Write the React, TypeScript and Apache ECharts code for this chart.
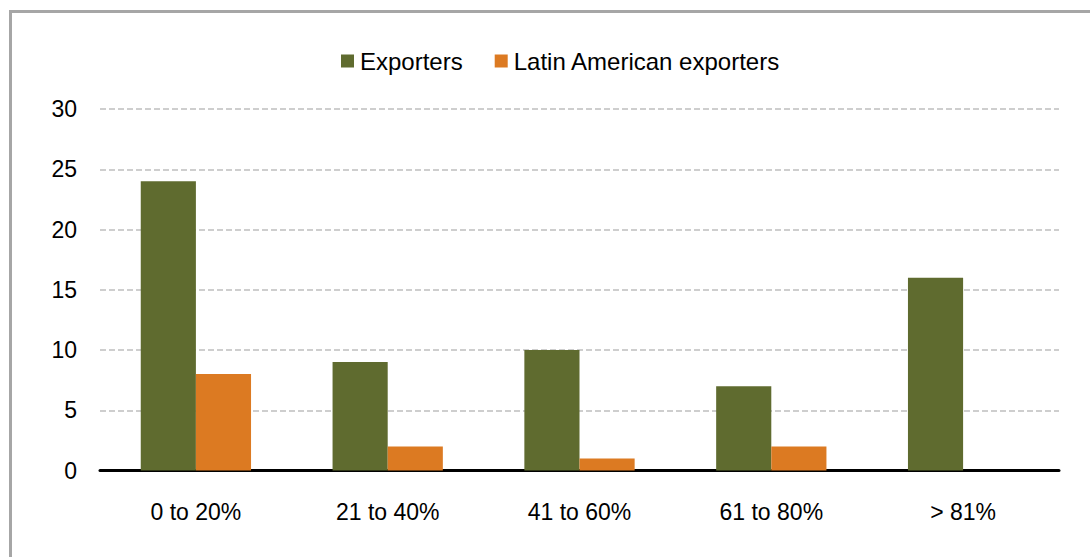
import React, { useEffect, useRef } from "react";
import * as echarts from "echarts";

const categories = ["0 to 20%", "21 to 40%", "41 to 60%", "61 to 80%", "> 81%"];
const exporters = [24, 9, 10, 7, 16];
const latinExporters = [8, 2, 1, 2, 0];
const yTicks = { min: 0, max: 30, interval: 5 };

export default function App() {
  const ref = useRef<HTMLDivElement>(null);
  useEffect(() => {
    if (!ref.current) return;
    const chart = echarts.init(ref.current, null, { renderer: "svg" });
    const font = "'Liberation Sans', Arial, sans-serif";
    chart.setOption({
      animation: false,
      backgroundColor: "#ffffff",
      textStyle: { fontFamily: font },
      graphic: [
        { type: "line", shape: { x1: 10.5, y1: 11.5, x2: 1090, y2: 11.5 }, style: { stroke: "#A6A6A6", lineWidth: 3 } },
        { type: "line", shape: { x1: 10.5, y1: 10, x2: 10.5, y2: 557 }, style: { stroke: "#A6A6A6", lineWidth: 3 } },
      ],
      legend: {
        top: 44,
        left: 336,
        itemWidth: 13,
        itemHeight: 13,
        itemGap: 32,
        icon: "rect",
        textStyle: { fontSize: 24, color: "#000", fontFamily: font, padding: [0, 0, 0, 1] },
        data: ["Exporters", "Latin American exporters"],
      },
      grid: { left: 100, right: 31, top: 109, bottom: 86.5 },
      xAxis: {
        type: "category",
        data: categories,
        axisLine: { lineStyle: { color: "#000", width: 3 } },
        axisTick: { show: false },
        axisLabel: { fontSize: 23, color: "#000", margin: 30, fontFamily: font },
      },
      yAxis: {
        type: "value",
        min: yTicks.min,
        max: yTicks.max,
        interval: yTicks.interval,
        axisLine: { show: false },
        axisTick: { show: false },
        axisLabel: { fontSize: 23, color: "#000", margin: 23, fontFamily: font, padding: [5, 0, 0, 0] },
        splitLine: { lineStyle: { color: "#BFBFBF", type: [6, 3], width: 1.5 } },
      },
      series: [
        {
          name: "Exporters",
          type: "bar",
          data: exporters,
          barGap: "0%",
          barCategoryGap: "42.5%",
          itemStyle: { color: "#5F6B2F" },
        },
        {
          name: "Latin American exporters",
          type: "bar",
          data: latinExporters,
          barGap: "0%",
          barCategoryGap: "42.5%",
          itemStyle: { color: "#DC7A22" },
        },
      ],
    });
    return () => chart.dispose();
  }, []);
  return (
    <div
      ref={ref}
      style={{ position: "fixed", left: 0, top: 0, width: 1090, height: 557 }}
    />
  );
}
